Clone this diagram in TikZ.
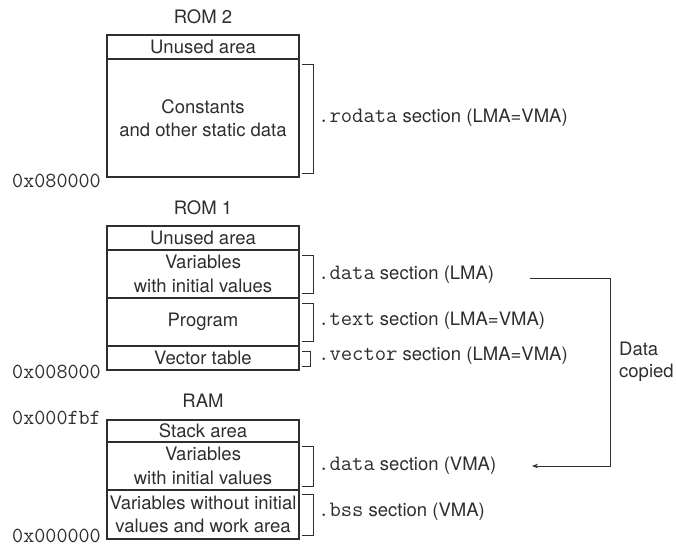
\documentclass[tikz,border=0pt]{standalone}
\usepackage{fontspec}
\setmainfont{TeX Gyre Heros}
\newfontfamily\cour{Latin Modern Mono}
\usetikzlibrary{arrows.meta}
\definecolor{ink}{HTML}{2E2E2E}
\newcommand{\sfsz}{\fontsize{18.5}{23.5}\selectfont}
\newcommand{\mono}[1]{{\fontsize{22}{23.5}\selectfont\cour #1}}
\begin{document}
\begin{tikzpicture}[x=1pt,y=-1pt,
  cell/.style={draw=ink, line width=1.1pt, minimum width=192pt, inner sep=0pt,
    align=center, text=ink, font=\sfsz},
  title/.style={text=ink, font=\sfsz, inner sep=0pt},
  addr/.style={anchor=east, text=ink, inner sep=0pt, font=\fontsize{21.5}{22}\selectfont\cour},
  seclabel/.style={anchor=west, text=ink, inner sep=0pt, font=\fontsize{18.5}{23.5}\selectfont},
  brk/.style={draw=ink, line width=0.8pt},
  flow/.style={draw=ink, line width=0.8pt}
]
\useasboundingbox (0,0) rectangle (676,548);

% ROM 2
\node[title] (t2) at (203,17) {ROM 2};
\node[cell, minimum height=24pt] (r2u) at (203,47) {Unused area};
\node[cell, minimum height=118pt] (r2c) at (203,118) {Constants\\and other static data};
\node[addr] (a2) at (101,181) {0x080000};
\draw[brk] (302,64) -- (313,64) -- (313,173) -- (302,173);
\node[seclabel] (lro) at (318,118) {\mono{.rodata} section (LMA=VMA)};

% ROM 1
\node[title] (t1) at (203,208) {ROM 1};
\node[cell, minimum height=24pt] (r1u) at (203,238) {Unused area};
\node[cell, minimum height=48pt] (r1v) at (203,274) {Variables\\with initial values};
\node[cell, minimum height=48pt] (r1p) at (203,322) {Program};
\node[cell, minimum height=24pt] (r1t) at (203,358) {Vector table};
\node[addr] (a1) at (101,372) {0x008000};
\draw[brk] (302,255) -- (313,255) -- (313,293) -- (302,293);
\draw[brk] (302,303) -- (313,303) -- (313,341) -- (302,341);
\draw[brk] (302,351) -- (310,351) -- (310,366) -- (302,366);
\node[seclabel] (ldl) at (318,275) {\mono{.data} section (LMA)};
\node[seclabel] (ltx) at (318,321) {\mono{.text} section (LMA=VMA)};
\node[seclabel] (lvc) at (318,356) {\mono{.vector} section (LMA=VMA)};

% RAM
\node[title] (t0) at (203,401) {RAM};
\node[cell, minimum height=22pt] (rs) at (203,431) {Stack area};
\node[cell, minimum height=48pt] (rv) at (203,466) {Variables\\with initial values};
\node[cell, minimum height=49pt] (rb) at (203,514.5) {Variables without initial\\values and work area};
\node[addr] (a0t) at (101,418) {0x000fbf};
\node[addr] (a0b) at (101,536) {0x000000};
\draw[brk] (302,446) -- (313,446) -- (313,486) -- (302,486);
\draw[brk] (302,494) -- (313,494) -- (313,535) -- (302,535);
\node[seclabel] (ldv) at (318,466) {\mono{.data} section (VMA)};
\node[seclabel] (lbs) at (318,512) {\mono{.bss} section (VMA)};

% copy arrow
\coordinate (cs) at (530,278);
\coordinate (ct) at (610,278);
\coordinate (ce) at (532,466);
\draw[flow, -{Stealth[length=6pt,width=4.5pt]}] (cs) -- (ct) |- (ce);
\node[anchor=west, align=left, text=ink, inner sep=0pt, font=\fontsize{18.5}{22}\selectfont] (dc) at (619,362) {Data\\copied};
\end{tikzpicture}
\end{document}
